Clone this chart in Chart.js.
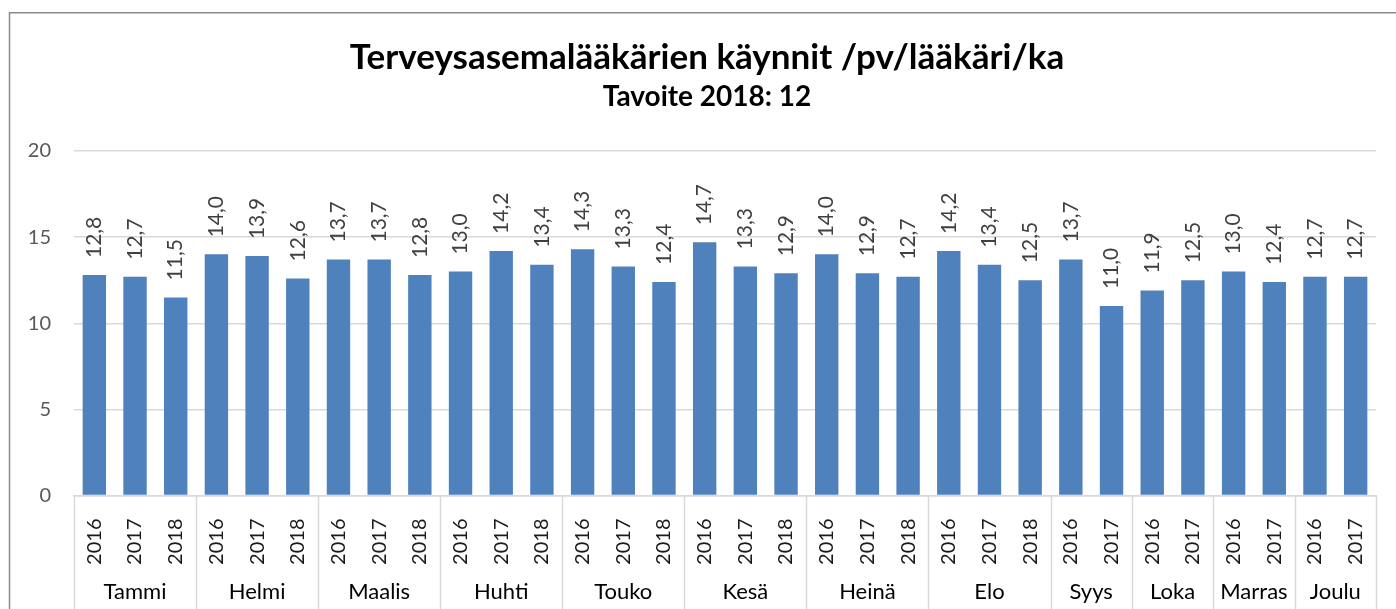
<!DOCTYPE html>
<html>
<head>
<meta charset="utf-8">
<script src="https://cdn.jsdelivr.net/npm/chart.js@4"></script>
<style>
  html, body { margin: 0; padding: 0; background: #ffffff; }
  #wrap { width: 1396px; height: 609px; }
</style>
</head>
<body>
<div id="wrap"><canvas id="c" width="1396" height="609"></canvas></div>
<script>
// ---- Data ----
const months = ['Tammi', 'Helmi', 'Maalis', 'Huhti', 'Touko', 'Kesä', 'Heinä', 'Elo', 'Syys', 'Loka', 'Marras', 'Joulu'];
const barsPerMonth = [3, 3, 3, 3, 3, 3, 3, 3, 2, 2, 2, 2];
const years = [
  '2016', '2017', '2018',  '2016', '2017', '2018',  '2016', '2017', '2018',
  '2016', '2017', '2018',  '2016', '2017', '2018',  '2016', '2017', '2018',
  '2016', '2017', '2018',  '2016', '2017', '2018',
  '2016', '2017',  '2016', '2017',  '2016', '2017',  '2016', '2017'
];
const visits = [
  12.8, 12.7, 11.5,  14.0, 13.9, 12.6,  13.7, 13.7, 12.8,
  13.0, 14.2, 13.4,  14.3, 13.3, 12.4,  14.7, 13.3, 12.9,
  14.0, 12.9, 12.7,  14.2, 13.4, 12.5,
  13.7, 11.0,  11.9, 12.5,  13.0, 12.4,  12.7, 12.7
];
const yTicks = [0, 5, 10, 15, 20];
const titleText = 'Terveysasemalääkärien käynnit /pv/lääkäri/ka';
const subtitleText = 'Tavoite 2018: 12';

const FONT = 'Lato, "Open Sans", sans-serif';

// Outer chart border (partially cropped frame)
const framePlugin = {
  id: 'frame',
  beforeDraw(chart) {
    const ctx = chart.ctx;
    ctx.save();
    ctx.strokeStyle = '#8a8a8a';
    ctx.lineWidth = 1.5;
    ctx.beginPath();
    ctx.moveTo(9.5, chart.height);
    ctx.lineTo(9.5, 12.75);
    ctx.lineTo(chart.width, 12.75);
    ctx.stroke();
    ctx.restore();
  }
};

// Title + subtitle
const titlePlugin = {
  id: 'titles',
  afterDraw(chart) {
    const ctx = chart.ctx;
    const cx = 707;
    ctx.save();
    ctx.fillStyle = '#000000';
    ctx.textAlign = 'center';
    ctx.textBaseline = 'alphabetic';
    ctx.font = 'bold 35px ' + FONT;
    ctx.fillText(titleText, cx, 69);
    ctx.font = 'bold 28px ' + FONT;
    ctx.fillText(subtitleText, cx, 106);
    ctx.restore();
  }
};

// Value labels above bars, rotated
const valueLabels = {
  id: 'valueLabels',
  afterDatasetsDraw(chart) {
    const ctx = chart.ctx;
    const meta = chart.getDatasetMeta(0);
    ctx.save();
    ctx.fillStyle = '#404040';
    ctx.font = '21px ' + FONT;
    meta.data.forEach((bar, i) => {
      ctx.save();
      ctx.translate(bar.x, bar.y - 17);
      ctx.rotate(-Math.PI / 2);
      ctx.textAlign = 'left';
      ctx.textBaseline = 'middle';
      ctx.fillText(visits[i].toFixed(1).replace('.', ','), 0, 0);
      ctx.restore();
    });
    ctx.restore();
  }
};

// Month group labels and separators for the two-level category axis
const monthAxis = {
  id: 'monthAxis',
  afterDraw(chart) {
    const xs = chart.scales.x;
    const ctx = chart.ctx;
    const top = xs.top;
    const bottom = chart.height;
    ctx.save();
    ctx.strokeStyle = '#d9d9d9';
    ctx.lineWidth = 1.5;
    ctx.fillStyle = '#000000';
    ctx.font = '22px ' + FONT;
    ctx.textAlign = 'center';
    ctx.textBaseline = 'alphabetic';
    let start = 0;
    const edges = [xs.left];
    barsPerMonth.forEach((n, m) => {
      const end = start + n - 1;
      const left = start === 0 ? xs.left
        : (xs.getPixelForValue(start - 1) + xs.getPixelForValue(start)) / 2;
      const right = end === years.length - 1 ? xs.right
        : (xs.getPixelForValue(end) + xs.getPixelForValue(end + 1)) / 2;
      edges.push(right);
      ctx.fillText(months[m], (left + right) / 2, top + 103.5);
      start += n;
    });
    edges.forEach(x => {
      const px = Math.round(x) + 0.5;
      ctx.beginPath();
      ctx.moveTo(px, top);
      ctx.lineTo(px, bottom);
      ctx.stroke();
    });
    ctx.restore();
  }
};

new Chart(document.getElementById('c'), {
  type: 'bar',
  data: {
    labels: years,
    datasets: [{
      data: visits,
      backgroundColor: '#4f81bd',
      borderWidth: 0,
      categoryPercentage: 1.0,
      barPercentage: 0.575
    }]
  },
  options: {
    responsive: false,
    animation: false,
    devicePixelRatio: 1,
    layout: { padding: { left: 0, right: 20, top: 151, bottom: 0 } },
    plugins: {
      legend: { display: false },
      tooltip: { enabled: false },
      title: { display: false },
      subtitle: { display: false }
    },
    scales: {
      x: {
        type: 'category',
        afterFit(scale) { scale.height = 113.5; },
        grid: { display: false },
        border: { display: true, color: '#d9d9d9', width: 1.5 },
        ticks: {
          autoSkip: false,
          minRotation: 90,
          maxRotation: 90,
          padding: 15,
          color: '#1a1a1a',
          font: { family: FONT, size: 20 }
        }
      },
      y: {
        min: 0,
        max: 20,
        afterFit(scale) { scale.width = 74; },
        afterBuildTicks(scale) { scale.ticks = yTicks.map(v => ({ value: v })); },
        grid: { color: '#d9d9d9', lineWidth: 1.5, drawTicks: false },
        border: { display: false },
        ticks: {
          padding: 23,
          color: '#595959',
          font: { family: FONT, size: 20 }
        }
      }
    }
  },
  plugins: [framePlugin, titlePlugin, valueLabels, monthAxis]
});
</script>
</body>
</html>
